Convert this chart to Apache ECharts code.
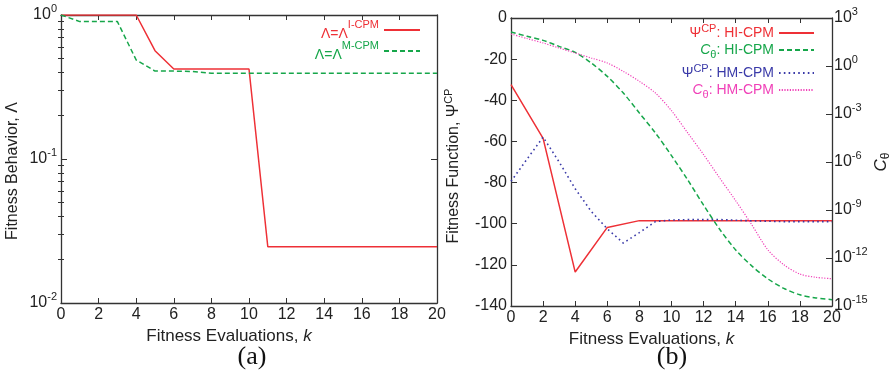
<!DOCTYPE html>
<html><head><meta charset="utf-8">
<script src="https://cdn.jsdelivr.net/npm/echarts@6/dist/echarts.min.js"></script>
<style>html,body{margin:0;padding:0;background:#fff}#c{width:895px;height:380px}</style>
</head><body><div id="c"></div>
<script>
// ---------- data ----------
const k = [0,1,2,3,4,5,6,7,8,9,10,11,12,13,14,15,16,17,18,19,20];
const kEven = [0,2,4,6,8,10,12,14,16,18,20];
const lambdaICPM = [1,1,1,1,1,0.565,0.422,0.422,0.422,0.422,0.422,0.0246,0.0246,0.0246,0.0246,0.0246,0.0246,0.0246,0.0246,0.0246,0.0246];
const lambdaMCPM = [1,0.9,0.9,0.9,0.487,0.408,0.408,0.405,0.394,0.394,0.394,0.394,0.394,0.394,0.394,0.394,0.394,0.394,0.394,0.394,0.394];
const psiHI = [-32.4,-58.5,-123.5,-101.8,-98.5,-98.5,-98.5,-98.5,-98.5,-98.5,-98.5]; // at kEven
const psiHM = [-79.4,-68.6,-57.9,-70,-83,-94,-102.5,-109.4,-104.3,-99,-98.2,-98,-98,-98,-98.3,-98.6,-98.8,-99,-99,-99,-99];
const cHI = [133,72,40,16.8,7.1,1.55,0.224,0.0204,1.15e-3,6.5e-5,2.5e-6,7.9e-8,2e-9,6.3e-11,3.2e-12,3.2e-13,5e-14,1.26e-14,5e-15,3.2e-15,2.5e-15];
const cHM = [100,52,27.5,13.3,6.5,3.16,1.55,0.46,0.11,0.0204,1.6e-3,6.8e-5,2.9e-6,1e-7,3.8e-9,1.2e-10,3.3e-12,3.8e-13,1e-13,6.2e-14,5.1e-14];
const lambdaMajorTicks = [0.01,0.1,1];
const lambdaMinorTicks = [0.02,0.03,0.04,0.05,0.06,0.07,0.08,0.09,0.2,0.3,0.4,0.5,0.6,0.7,0.8,0.9];
const cMajorTicks = [1e-15,1e-12,1e-9,1e-6,1e-3,1,1e3];

// ---------- style ----------
const FONT = '"Liberation Sans", Arial, sans-serif';
const AX = '#333';
const RED = '#ee3036', GREEN = '#16a64a', BLUE = '#3a3aa8', PINK = '#f040b8';
const axLine = {show:true, onZero:false, lineStyle:{color:AX, width:1.3}};
const tickRich = {
  b:{fontSize:16, lineHeight:24, verticalAlign:'middle', fontFamily:FONT, color:'#222'},
  s:{fontSize:11, lineHeight:10, verticalAlign:'top', fontFamily:FONT, color:'#222'}
};
const supLabel = v => '{b|10}{s|' + Math.round(Math.log10(v)) + '}';

function xAxes(grid){
  const base = {type:'value', gridIndex:grid, min:0, max:20, interval:2, splitLine:{show:false},
    axisLine:axLine, axisTick:{inside:true, length:5, lineStyle:{color:AX}}};
  return [
    Object.assign({}, base, {position:'bottom',
      axisLabel:{fontSize:16, fontFamily:FONT, color:'#222', margin:4},
      name:'{n|Fitness Evaluations, }{k|k}', nameLocation:'middle', nameGap:24,
      nameTextStyle:{padding:[0,40,0,0], rich:{n:{fontSize:17, fontFamily:FONT, color:'#222'}, k:{fontSize:17, fontFamily:FONT, fontStyle:'italic', color:'#222'}}}}),
    Object.assign({}, base, {position:'top', axisLabel:{show:false}})
  ];
}
function logAxis(grid, pos, min, max, major, minor, labels, extra){
  const a = {type:'log', logBase:10, gridIndex:grid, position:pos, min:min, max:max, splitLine:{show:false}};
  if (minor) {
    Object.assign(a, {axisLine:{show:false}, axisTick:{inside:true, length:3, customValues:minor, lineStyle:{color:AX}}, axisLabel:{show:false}});
  } else {
    Object.assign(a, {axisLine:axLine, axisTick:{inside:true, length:6, customValues:major, lineStyle:{color:AX}},
      axisLabel: labels ? {customValues:major, formatter:supLabel, rich:tickRich, margin: pos==='left'?4:2} : {show:false}});
  }
  return Object.assign(a, extra || {});
}

const option = {
  animation:false,
  grid:[{left:61, top:15, width:376, height:288}, {left:511, top:18, width:321, height:288}],
  xAxis:[...xAxes(0), ...xAxes(1)],
  yAxis:[
    logAxis(0,'left',0.01,1,lambdaMajorTicks,null,true,{
      name:'Fitness Behavior, Λ', nameLocation:'middle', nameRotate:90, nameGap:40,
      nameTextStyle:{fontSize:16, fontFamily:FONT, color:'#222', padding:[0,24,0,0]}}),
    logAxis(0,'left',0.01,1,null,lambdaMinorTicks,false),
    logAxis(0,'right',0.01,1,lambdaMajorTicks,null,false),
    logAxis(0,'right',0.01,1,null,lambdaMinorTicks,false),
    {type:'value', gridIndex:1, position:'left', min:-140, max:0, interval:20, splitLine:{show:false},
      axisLine:axLine, axisTick:{inside:true, length:6, lineStyle:{color:AX}},
      axisLabel:{fontSize:16, fontFamily:FONT, color:'#222', margin:4},
      name:'{n|Fitness Function, }{p|Ψ}{s|CP}', nameLocation:'middle', nameRotate:90, nameGap:46,
      nameTextStyle:{padding:[0,8,0,0], rich:{
        n:{fontSize:16, fontFamily:FONT, color:'#222', lineHeight:22, verticalAlign:'middle'},
        p:{fontSize:16, fontFamily:FONT, color:'#222', lineHeight:22, verticalAlign:'middle'},
        s:{fontSize:11, fontFamily:FONT, color:'#222', lineHeight:10, verticalAlign:'top'}}}},
    logAxis(1,'right',1e-15,1e3,cMajorTicks,null,true,{
      name:'{c|C}{t|θ}', nameLocation:'middle', nameRotate:90, nameGap:38,
      nameTextStyle:{rich:{
        c:{fontSize:17, fontFamily:FONT, fontStyle:'italic', color:'#222', lineHeight:22, verticalAlign:'middle'},
        t:{fontSize:12, fontFamily:FONT, color:'#222', lineHeight:12, verticalAlign:'bottom'}}}})
  ],
  legend:[],
  series:[
    {name:'I-CPM', type:'line', xAxisIndex:0, yAxisIndex:0, symbol:'none', data:k.map((x,i)=>[x,lambdaICPM[i]]), lineStyle:{color:RED, width:1.5}, itemStyle:{color:RED}},
    {name:'M-CPM', type:'line', xAxisIndex:0, yAxisIndex:0, symbol:'none', data:k.map((x,i)=>[x,lambdaMCPM[i]]), lineStyle:{color:GREEN, width:1.5, type:[5,3]}, itemStyle:{color:GREEN}},
    {name:'psiHI', type:'line', xAxisIndex:2, yAxisIndex:4, symbol:'none', data:kEven.map((x,i)=>[x,psiHI[i]]), lineStyle:{color:RED, width:1.5}, itemStyle:{color:RED}},
    {name:'cHI', type:'line', xAxisIndex:2, yAxisIndex:5, symbol:'none', smooth:0.3, data:k.map((x,i)=>[x,cHI[i]]), lineStyle:{color:GREEN, width:1.5, type:[5,3]}, itemStyle:{color:GREEN}},
    {name:'psiHM', type:'line', xAxisIndex:2, yAxisIndex:4, symbol:'none', data:k.map((x,i)=>[x,psiHM[i]]), lineStyle:{color:BLUE, width:1.6, type:[1.6,3.2]}, itemStyle:{color:BLUE}},
    {name:'cHM', type:'line', xAxisIndex:2, yAxisIndex:5, symbol:'none', smooth:0.3, data:k.map((x,i)=>[x,cHM[i]]), lineStyle:{color:PINK, width:1.2, type:[1.2,1.5]}, itemStyle:{color:PINK}}
  ],
  graphic:[
    {type:'text', style:{text:'(a)', x:252, y:357, align:'center', verticalAlign:'middle', font:'26px "Liberation Serif", "Times New Roman", serif', fill:'#111'}},
    {type:'text', style:{text:'(b)', x:672, y:357, align:'center', verticalAlign:'middle', font:'26px "Liberation Serif", "Times New Roman", serif', fill:'#111'}}
  ]
};

function mkLegend(name, text, color, right, top, rich, w){
  const r = {};
  for (const key in rich) r[key] = Object.assign({color:color, fontFamily:FONT}, rich[key]);
  return {show:true, selectedMode:false, orient:'vertical', align:'right', right:right, top:top,
    itemWidth:w, itemHeight:12, padding:0, data:[name], formatter:()=>text,
    itemStyle:{color:'rgba(0,0,0,0)', borderColor:'rgba(0,0,0,0)', borderWidth:0, opacity:0},
    textStyle:{color:color, fontFamily:FONT, rich:r}};
}
const richL = {a:{fontSize:14, lineHeight:18, verticalAlign:'bottom'}, s:{fontSize:11, lineHeight:10, verticalAlign:'top'}, z:{fontSize:14, lineHeight:22}};
const richR = {p:{fontSize:14, lineHeight:20, verticalAlign:'middle'}, sp:{fontSize:11, lineHeight:11, verticalAlign:'top'},
  ci:{fontSize:14, lineHeight:20, fontStyle:'italic', verticalAlign:'middle'}, sb:{fontSize:11, lineHeight:12, verticalAlign:'bottom'}};
option.legend = [
  mkLegend('I-CPM', '{z|}{a|Λ=Λ}{s|I-CPM}', RED, 474, 19, richL, 36),
  mkLegend('M-CPM', '{z|}{a|Λ=Λ}{s|M-CPM}', GREEN, 474, 40, richL, 36),
  mkLegend('psiHI', '{p|Ψ}{sp|CP}{p|: HI-CPM}', RED, 80, 23, richR, 35),
  mkLegend('cHI', '{ci|C}{sb|θ}{p|: HI-CPM}', GREEN, 80, 43, richR, 35),
  mkLegend('psiHM', '{p|Ψ}{sp|CP}{p|: HM-CPM}', BLUE, 80, 63, richR, 35),
  mkLegend('cHM', '{ci|C}{sb|θ}{p|: HM-CPM}', PINK, 80, 83, richR, 35)
];
const chart = echarts.init(document.getElementById('c'), null, {renderer:'canvas'});
chart.setOption(option);
</script></body></html>
